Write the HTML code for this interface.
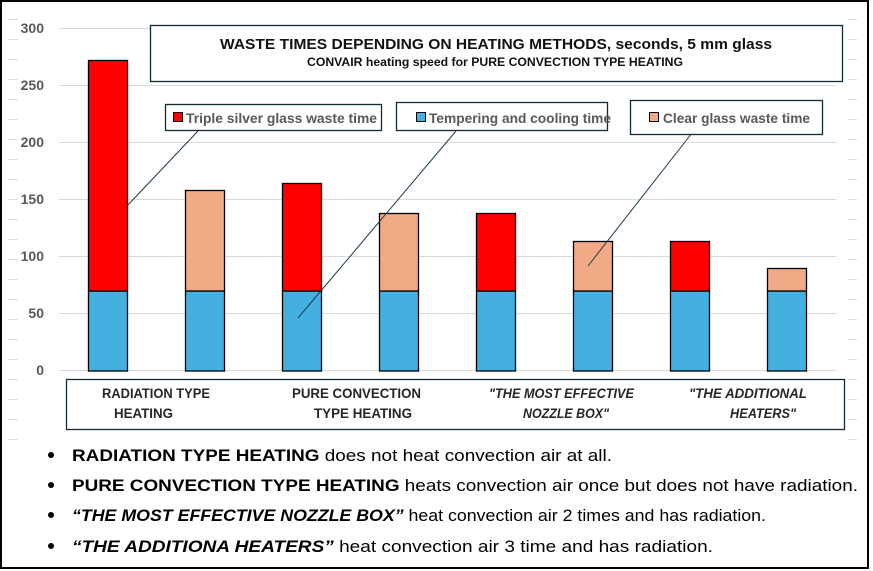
<!DOCTYPE html>
<html><head><meta charset="utf-8"><style>body{margin:0;background:#fff}svg{display:block}</style></head>
<body>
<svg width="873" height="571" viewBox="0 0 873 571" xmlns="http://www.w3.org/2000/svg" font-family="Liberation Sans, sans-serif">
<rect x="1" y="1" width="867" height="567" fill="#fff" stroke="#000" stroke-width="2"/>
<g stroke="#d9d9d9" stroke-width="1">
<line x1="59" y1="28.5" x2="836" y2="28.5"/><line x1="59" y1="85.5" x2="836" y2="85.5"/>
<line x1="59" y1="142.5" x2="836" y2="142.5"/><line x1="59" y1="199.5" x2="836" y2="199.5"/>
<line x1="59" y1="256.5" x2="836" y2="256.5"/><line x1="59" y1="313.5" x2="836" y2="313.5"/>
<line x1="59" y1="370.5" x2="836" y2="370.5"/>
</g>
<g stroke="#e0e0e0" stroke-width="1">
<line x1="8" y1="19.5" x2="18" y2="19.5"/><line x1="8" y1="39.5" x2="18" y2="39.5"/><line x1="8" y1="59.5" x2="18" y2="59.5"/><line x1="8" y1="79.5" x2="18" y2="79.5"/><line x1="8" y1="99.5" x2="18" y2="99.5"/><line x1="8" y1="119.5" x2="18" y2="119.5"/><line x1="8" y1="139.5" x2="18" y2="139.5"/><line x1="8" y1="159.5" x2="18" y2="159.5"/><line x1="8" y1="179.5" x2="18" y2="179.5"/><line x1="8" y1="199.5" x2="18" y2="199.5"/><line x1="8" y1="219.5" x2="18" y2="219.5"/><line x1="8" y1="239.5" x2="18" y2="239.5"/><line x1="8" y1="259.5" x2="18" y2="259.5"/><line x1="8" y1="279.5" x2="18" y2="279.5"/><line x1="8" y1="299.5" x2="18" y2="299.5"/><line x1="8" y1="319.5" x2="18" y2="319.5"/><line x1="8" y1="339.5" x2="18" y2="339.5"/><line x1="8" y1="359.5" x2="18" y2="359.5"/><line x1="8" y1="379.5" x2="18" y2="379.5"/><line x1="8" y1="399.5" x2="18" y2="399.5"/><line x1="8" y1="419.5" x2="18" y2="419.5"/><line x1="8" y1="439.5" x2="18" y2="439.5"/>
<line x1="848" y1="19.5" x2="857" y2="19.5"/><line x1="848" y1="39.5" x2="857" y2="39.5"/><line x1="848" y1="59.5" x2="857" y2="59.5"/><line x1="848" y1="79.5" x2="857" y2="79.5"/><line x1="848" y1="99.5" x2="857" y2="99.5"/><line x1="848" y1="119.5" x2="857" y2="119.5"/><line x1="848" y1="139.5" x2="857" y2="139.5"/><line x1="848" y1="159.5" x2="857" y2="159.5"/><line x1="848" y1="179.5" x2="857" y2="179.5"/><line x1="848" y1="199.5" x2="857" y2="199.5"/><line x1="848" y1="219.5" x2="857" y2="219.5"/><line x1="848" y1="239.5" x2="857" y2="239.5"/><line x1="848" y1="259.5" x2="857" y2="259.5"/><line x1="848" y1="279.5" x2="857" y2="279.5"/><line x1="848" y1="299.5" x2="857" y2="299.5"/><line x1="848" y1="319.5" x2="857" y2="319.5"/><line x1="848" y1="339.5" x2="857" y2="339.5"/><line x1="848" y1="359.5" x2="857" y2="359.5"/><line x1="848" y1="379.5" x2="857" y2="379.5"/><line x1="848" y1="399.5" x2="857" y2="399.5"/><line x1="848" y1="419.5" x2="857" y2="419.5"/><line x1="848" y1="439.5" x2="857" y2="439.5"/>
</g>
<g fill="#595959" font-weight="bold" font-size="14" text-anchor="end">
<text x="44" y="33">300</text><text x="44" y="90">250</text><text x="44" y="147">200</text><text x="44" y="204">150</text><text x="44" y="261">100</text><text x="44" y="318">50</text><text x="44" y="375">0</text>
</g>
<g stroke="#000" stroke-width="1.3">
<rect x="88.5" y="291" width="39" height="80" fill="#45b0e0"/><rect x="88.5" y="60.5" width="39" height="230.5" fill="#ff0000"/>
<rect x="185.5" y="291" width="39" height="80" fill="#45b0e0"/><rect x="185.5" y="190.5" width="39" height="100.5" fill="#f1aa85"/>
<rect x="282.5" y="291" width="39" height="80" fill="#45b0e0"/><rect x="282.5" y="183.5" width="39" height="107.5" fill="#ff0000"/>
<rect x="379.5" y="291" width="39" height="80" fill="#45b0e0"/><rect x="379.5" y="213.5" width="39" height="77.5" fill="#f1aa85"/>
<rect x="476.5" y="291" width="39" height="80" fill="#45b0e0"/><rect x="476.5" y="213.5" width="39" height="77.5" fill="#ff0000"/>
<rect x="573.5" y="291" width="39" height="80" fill="#45b0e0"/><rect x="573.5" y="241.5" width="39" height="49.5" fill="#f1aa85"/>
<rect x="670.5" y="291" width="39" height="80" fill="#45b0e0"/><rect x="670.5" y="241.5" width="39" height="49.5" fill="#ff0000"/>
<rect x="767.5" y="291" width="39" height="80" fill="#45b0e0"/><rect x="767.5" y="268.5" width="39" height="22.5" fill="#f1aa85"/>
</g>
<g stroke="#1f3a4a" stroke-width="1">
<line x1="198" y1="131" x2="127" y2="206"/>
<line x1="456" y1="131" x2="298" y2="318"/>
<line x1="692" y1="133" x2="588" y2="266"/>
</g>
<rect x="150.5" y="25.5" width="692" height="56" fill="#fff" stroke="#0f2a33" stroke-width="1.3"/>
<text x="496" y="49" text-anchor="middle" font-weight="bold" font-size="15" fill="#111" textLength="552" lengthAdjust="spacingAndGlyphs">WASTE TIMES DEPENDING ON HEATING METHODS, seconds, 5 mm glass</text>
<text x="495" y="66" text-anchor="middle" font-weight="bold" font-size="11.5" fill="#111" textLength="376" lengthAdjust="spacingAndGlyphs">CONVAIR heating speed for PURE CONVECTION TYPE HEATING</text>
<rect x="165.5" y="104.5" width="216" height="26" fill="#fff" stroke="#0f2a33" stroke-width="1.3"/>
<rect x="173.5" y="112.5" width="9" height="9" fill="#ff0000" stroke="#000"/>
<text x="186" y="123" font-weight="bold" font-size="14" fill="#595959" textLength="191" lengthAdjust="spacingAndGlyphs">Triple silver glass  waste time</text>
<rect x="396.5" y="102.5" width="211" height="28" fill="#fff" stroke="#0f2a33" stroke-width="1.3"/>
<rect x="416.5" y="112.5" width="9" height="9" fill="#45b0e0" stroke="#000"/>
<text x="429" y="123" font-weight="bold" font-size="14" fill="#595959" textLength="182" lengthAdjust="spacingAndGlyphs">Tempering and cooling time</text>
<rect x="630.5" y="100.5" width="192" height="34" fill="#fff" stroke="#0f2a33" stroke-width="1.3"/>
<rect x="649.5" y="112.5" width="9" height="9" fill="#f1aa85" stroke="#000"/>
<text x="663" y="123" font-weight="bold" font-size="14" fill="#595959" textLength="147" lengthAdjust="spacingAndGlyphs">Clear glass waste time</text>
<rect x="66.5" y="379.5" width="778" height="50" fill="#fff" stroke="#0f2a33" stroke-width="1.3"/>
<g font-weight="bold" font-size="13.5" fill="#262626">
<text x="102" y="398" textLength="108" lengthAdjust="spacingAndGlyphs">RADIATION TYPE</text>
<text x="114" y="418" textLength="59" lengthAdjust="spacingAndGlyphs">HEATING</text>
<text x="292" y="398" textLength="129" lengthAdjust="spacingAndGlyphs">PURE CONVECTION</text>
<text x="314" y="418" textLength="98" lengthAdjust="spacingAndGlyphs">TYPE  HEATING</text>
<text x="489" y="398" font-style="italic" textLength="145" lengthAdjust="spacingAndGlyphs">"THE MOST EFFECTIVE</text>
<text x="523" y="418" font-style="italic" textLength="86" lengthAdjust="spacingAndGlyphs">NOZZLE BOX"</text>
<text x="689" y="398" font-style="italic" textLength="118" lengthAdjust="spacingAndGlyphs">"THE  ADDITIONAL</text>
<text x="730" y="418" font-style="italic" textLength="66" lengthAdjust="spacingAndGlyphs">HEATERS"</text>
</g>
<g fill="#000" font-size="17">
<circle cx="51" cy="455" r="3"/><circle cx="51" cy="485" r="3"/><circle cx="51" cy="515" r="3"/><circle cx="51" cy="546" r="3"/>
<text x="72" y="461" textLength="540" lengthAdjust="spacingAndGlyphs"><tspan font-weight="bold">RADIATION TYPE HEATING</tspan> does not heat convection air at all.</text>
<text x="72" y="491" textLength="786" lengthAdjust="spacingAndGlyphs"><tspan font-weight="bold">PURE CONVECTION TYPE HEATING</tspan> heats convection air once but does not have radiation.</text>
<text x="72" y="521" textLength="694" lengthAdjust="spacingAndGlyphs"><tspan font-weight="bold" font-style="italic">“THE MOST EFFECTIVE NOZZLE BOX”</tspan> heat convection air 2 times and has radiation.</text>
<text x="72" y="552" textLength="641" lengthAdjust="spacingAndGlyphs"><tspan font-weight="bold" font-style="italic">“THE ADDITIONA HEATERS”</tspan> heat convection air 3 time and has radiation.</text>
</g>
</svg>
</body></html>
